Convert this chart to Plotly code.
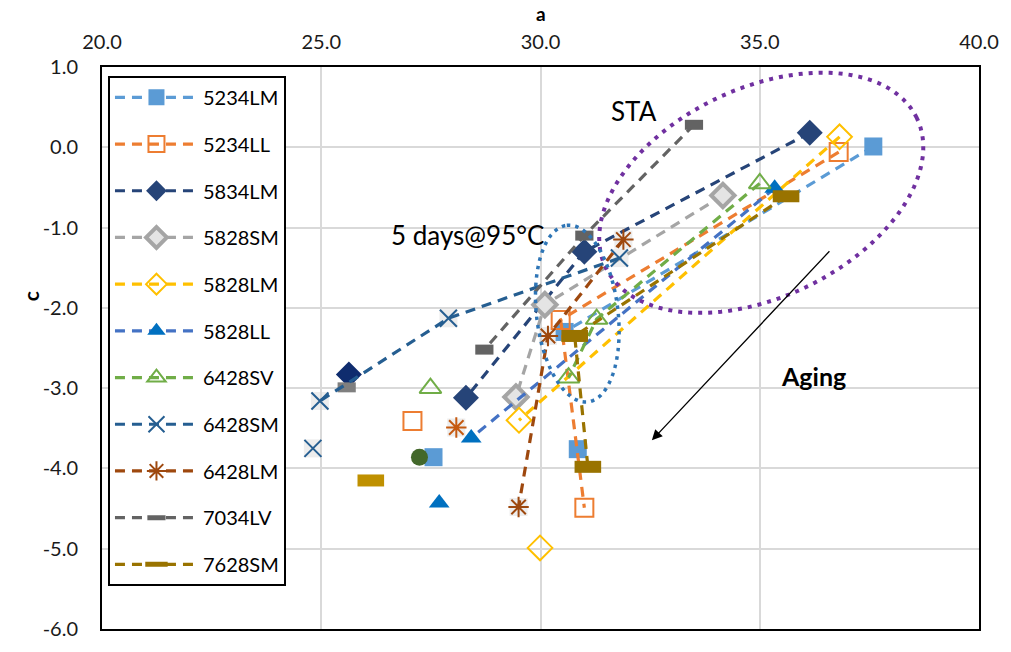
import numpy as np
import plotly.graph_objects as go

# ---------------- data ----------------
series_names = ["5234LM", "5234LL", "5834LM", "5828SM", "5828LM", "5828LL",
                "6428SV", "6428SM", "6428LM", "7034LV", "7628SM"]

# connected points (STA -> 5 days@95C -> further aging)
a_5234LM = [37.59, 30.55]
c_5234LM = [0.01, -2.30]
a_5234LL = [36.80, 30.46, 31.00]
c_5234LL = [-0.06, -2.15, -4.49]
a_5834LM = [36.14, 31.00, 28.30]
c_5834LM = [0.18, -1.30, -3.12]
a_5828SM = [34.16, 30.10, 29.44]
c_5828SM = [-0.60, -1.96, -3.11]
a_5828LM = [36.82, 29.51]
c_5828LM = [0.13, -3.40]
a_5828LL = [35.34, 28.42]
c_5828LL = [-0.51, -3.62]
a_6428SV = [35.00, 31.28, 30.64]
c_6428SV = [-0.45, -2.14, -2.87]
a_6428SM = [31.80, 27.90, 24.97]
c_6428SM = [-1.38, -2.13, -3.16]
a_6428LM = [31.89, 30.17, 29.50]
c_6428LM = [-1.15, -2.35, -4.48]
a_7034LV = [33.50, 31.00, 28.72]
c_7034LV = [0.28, -1.10, -2.52]
a_7628SM = [35.60, 30.78, 31.08]
c_7628SM = [-0.61, -2.35, -3.98]

# stand-alone markers (no line, not in legend)
extra_series = ["5234LM", "5234LM", "5234LL", "5834LM", "5828LM", "5828LL",
                "6428SV", "6428SM", "6428LM", "7034LV", "7628SM", "other"]
extra_a = [27.56, 30.85, 27.08, 25.63, 29.99, 27.69, 27.49, 24.81, 28.08, 25.58, 26.13, 27.24]
extra_c = [-3.86, -3.76, -3.41, -2.83, -4.99, -4.43, -3.00, -3.75, -3.49, -2.99, -4.15, -3.86]

x_ticks = [20, 25, 30, 35, 40]
y_ticks = [1, 0, -1, -2, -3, -4, -5, -6]

series_a = [a_5234LM, a_5234LL, a_5834LM, a_5828SM, a_5828LM, a_5828LL,
            a_6428SV, a_6428SM, a_6428LM, a_7034LV, a_7628SM]
series_c = [c_5234LM, c_5234LL, c_5834LM, c_5828SM, c_5828LM, c_5828LL,
            c_6428SV, c_6428SM, c_6428LM, c_7034LV, c_7628SM]

# ---------------- styles ----------------
styles = {
    "5234LM": dict(line="#5B9BD5", symbol="square", color="#5B9BD5", lc="#5B9BD5", lw=0, size=18),
    "5234LL": dict(line="#ED7D31", symbol="square-open", color="#ED7D31", lc="#ED7D31", lw=2, size=18),
    "5834LM": dict(line="#264478", symbol="diamond", color="#264478", lc="#264478", lw=0, size=20),
    "5828SM": dict(line="#A5A5A5", symbol="diamond", color="#E4E4E4", lc="#A5A5A5", lw=4, size=18),
    "5828LM": dict(line="#FFC000", symbol="diamond-open", color="#FFC000", lc="#FFC000", lw=2, size=19),
    "5828LL": dict(line="#4472C4", symbol="triangle-up", color="#0070C0", lc="#0070C0", lw=0, size=18),
    "6428SV": dict(line="#70AD47", symbol="triangle-up-open", color="#70AD47", lc="#70AD47", lw=2, size=19),
    "6428SM": dict(line="#255E91", symbol="x-thin-open", color="#255E91", lc="#255E91", lw=2, size=17),
    "6428LM": dict(line="#9E480E", symbol="asterisk-open", color="#9E480E", lc="#9E480E", lw=2, size=17),
    "7034LV": dict(line="#636363", symbol="line-ew-open", color="#636363", lc="#636363", lw=10, size=13),
    "7628SM": dict(line="#997300", symbol="line-ew-open", color="#997300", lc="#997300", lw=12, size=19),
    "other": dict(line="#43682B", symbol="circle", color="#43682B", lc="#43682B", lw=0, size=17),
}
extra_color_override = {"5834LM": "#0F2C6E", "7034LV": "#7F7F7F", "7628SM": "#BF9000",
                        "6428LM": "#C55A11", "5828LL": "#0070C0"}

FONT = "Lato"

fig = go.Figure()

# light backgrounds behind X / asterisk markers
bg_a, bg_c = [], []
for nm, aa, cc in zip(series_names, series_a, series_c):
    if nm in ("6428SM", "6428LM"):
        bg_a += aa
        bg_c += cc
for nm, aa, cc in zip(extra_series, extra_a, extra_c):
    if nm in ("6428SM", "6428LM"):
        bg_a.append(aa)
        bg_c.append(cc)
fig.add_trace(go.Scatter(x=bg_a, y=bg_c, mode="markers", showlegend=False, hoverinfo="skip",
                         marker=dict(symbol="square", size=18, color="rgba(215,215,215,0.45)")))

# stand-alone markers
for nm, aa, cc in zip(extra_series, extra_a, extra_c):
    st = styles[nm]
    col = extra_color_override.get(nm, st["color"])
    lc = extra_color_override.get(nm, st["lc"])
    fig.add_trace(go.Scatter(
        x=[aa], y=[cc], mode="markers", showlegend=False,
        marker=dict(symbol=st["symbol"], size=st["size"], color=col,
                    line=dict(color=lc, width=st["lw"]))))

# connected series
for nm, aa, cc in zip(series_names, series_a, series_c):
    st = styles[nm]
    fig.add_trace(go.Scatter(
        x=aa, y=cc, mode="lines+markers", name=nm, legendgroup=nm,
        line=dict(color=st["line"], width=3.2, dash="10px,7px"),
        marker=dict(symbol=st["symbol"], size=st["size"], color=st["color"],
                    line=dict(color=st["lc"], width=st["lw"]))))

# ---------------- geometry helpers for annotations ----------------
L, R, T, B = 102, 27, 67, 13
W, H = 1011, 652
XR = (20, 40)
YR = (-6, 1)
pw, ph = W - L - R, H - T - B


def px_to_data(px, py):
    x = XR[0] + (px - L) / pw * (XR[1] - XR[0])
    y = YR[1] - (py - T) / ph * (YR[1] - YR[0])
    return x, y


def ellipse_path(cx, cy, A, Bm, ang_deg, n=120):
    t = np.linspace(0, 2 * np.pi, n)
    th = np.deg2rad(ang_deg)
    ux, uy = np.cos(th), -np.sin(th)      # major axis direction (screen coords)
    vx, vy = np.sin(th), np.cos(th)
    xs = cx + A * np.cos(t) * ux + Bm * np.sin(t) * vx
    ys = cy + A * np.cos(t) * uy + Bm * np.sin(t) * vy
    pts = [px_to_data(x, y) for x, y in zip(xs, ys)]
    return "M " + " L ".join(f"{x:.4f},{y:.4f}" for x, y in pts) + " Z"


fig.add_shape(type="path", xref="x", yref="y", path=ellipse_path(765, 195, 174, 106, 26.2),
              line=dict(color="#7030A0", width=4, dash="4px,6px"), layer="above")
fig.add_shape(type="path", xref="x", yref="y", path=ellipse_path(580, 318, 90.5, 41, 90 + 6.7),
              line=dict(color="#2E75B6", width=3.5, dash="3.5px,5px"), layer="above")

tip = px_to_data(655, 447)
tail = px_to_data(835, 253)
fig.add_annotation(x=tip[0], y=tip[1], ax=tail[0], ay=tail[1], xref="x", yref="y",
                   axref="x", ayref="y", showarrow=True, arrowhead=2, arrowsize=1.6,
                   arrowwidth=1.3, arrowcolor="black", text="")

for txt, (pxx, pyy), bold in [("STA", (637, 112), False), ("5 days@95°C", (470, 238), False),
                               ("Aging", (818, 381), True)]:
    dx, dy = px_to_data(pxx, pyy)
    fig.add_annotation(x=dx, y=dy, xref="x", yref="y", showarrow=False,
                       text=f"<b>{txt}</b>" if bold else txt,
                       font=dict(family=FONT, size=26 if not bold else 25, color="black"))

fig.add_annotation(x=(543 - L) / pw, y=(H - B - 13) / ph, xref="paper", yref="paper",
                   xanchor="center", yanchor="middle",
                   showarrow=False, text="<b>a</b>", font=dict(family=FONT, size=19, color="black"))
fig.add_annotation(x=(31 - L) / pw, y=(H - B - 300) / ph, xref="paper", yref="paper",
                   xanchor="center", yanchor="middle",
                   showarrow=False, text="<b>c</b>", textangle=-90,
                   font=dict(family=FONT, size=21, color="black"))

fig.update_layout(
    width=W, height=H, margin=dict(l=L, r=R, t=T, b=B),
    paper_bgcolor="white", plot_bgcolor="white",
    font=dict(family=FONT, size=20, color="#1A1A1A"),
    legend=dict(x=(108 - L) / pw, y=(H - B - 76) / ph, xanchor="left", yanchor="top",
                bordercolor="black", borderwidth=2, bgcolor="white",
                font=dict(family=FONT, size=20, color="black"),
                tracegroupgap=17.7, itemwidth=83),
    showlegend=True,
)
fig.update_xaxes(range=list(XR), side="top", tickvals=x_ticks,
                 ticktext=[f"{v:.1f}" for v in x_ticks],
                 showgrid=True, gridcolor="#D9D9D9", gridwidth=1.5, zeroline=False,
                 showline=True, linecolor="black", linewidth=2, mirror=True,
                 ticks="", ticklabelstandoff=8)
fig.update_yaxes(range=list(YR), tickvals=y_ticks,
                 ticktext=[f"{v:.1f}" for v in y_ticks],
                 showgrid=True, gridcolor="#D9D9D9", gridwidth=1.5, zeroline=False,
                 showline=True, linecolor="black", linewidth=2, mirror=True,
                 ticks="", ticklabelstandoff=18)

fig.write_html("out.html")
